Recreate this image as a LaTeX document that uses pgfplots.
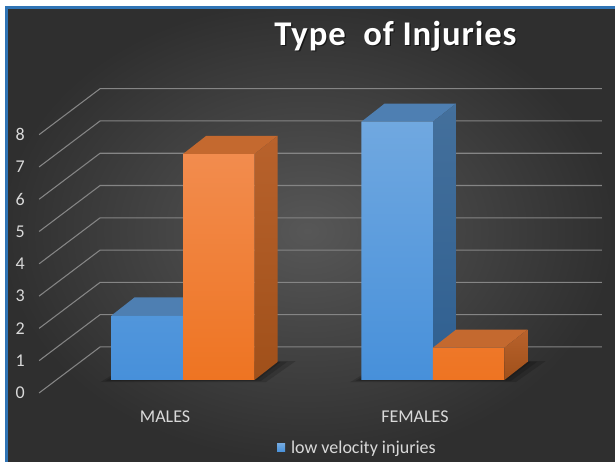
\documentclass[border=0pt]{standalone}
\usepackage{fontspec}
\setmainfont{Carlito}
\usepackage{pgfplots}
\pgfplotsset{compat=1.18}

\definecolor{bginner}{HTML}{575757}
\definecolor{bgouter}{HTML}{2F2F2F}
\definecolor{gridc}{HTML}{858585}
\definecolor{labelc}{HTML}{D9D9D9}
\definecolor{frameblue}{HTML}{2F74B5}
\definecolor{bluetopface}{HTML}{4E7FB2}
\definecolor{bluefronttop}{HTML}{70A8E0}
\definecolor{bluefrontbot}{HTML}{4790DA}
\definecolor{bluesidetop}{HTML}{44709C}
\definecolor{bluesidebot}{HTML}{2F5F90}
\definecolor{orangetopface}{HTML}{C4692F}
\definecolor{orangefronttop}{HTML}{F28C4E}
\definecolor{orangefrontbot}{HTML}{EE7422}
\definecolor{orangesidetop}{HTML}{B8622C}
\definecolor{orangesidebot}{HTML}{A0501A}

% bar geometry in axis units: width and the depth offset of the 3-D boxes
\def\bw{0.286}
\def\dx{0.092}
\def\dy{0.557}

% top and side faces of one box: left edge, value, top colour, side colours
\newcommand\barfaces[5]{%
  \pgfmathsetmacro\xl{#1}%
  \pgfmathsetmacro\xr{#1+\bw}%
  \pgfmathsetmacro\xlb{#1+\dx}%
  \pgfmathsetmacro\xrb{#1+\bw+\dx}%
  \pgfmathsetmacro\yt{#2}%
  \pgfmathsetmacro\ytb{#2+\dy}%
  \edef\faces{%
    \noexpand\addplot[forget plot, draw=none, fill=#3]
      coordinates {(\xl,\yt) (\xlb,\ytb) (\xrb,\ytb) (\xr,\yt)};
    \noexpand\addplot[forget plot, draw=none, top color=#4, bottom color=#5]
      coordinates {(\xr,0) (\xrb,\dy) (\xrb,\ytb) (\xr,\yt)};
  }\faces
}

% soft floor shadow under a pair of boxes: left edge, right edge, spread
\newcommand\floorshadow[3]{%
  \pgfmathsetmacro\sa{#1-#3}%
  \pgfmathsetmacro\sb{#2+#3}%
  \pgfmathsetmacro\sc{#2+\dx+1.6*#3}%
  \pgfmathsetmacro\sd{#1+\dx}%
  \pgfmathsetmacro\se{\dy+0.5*#3}%
  \pgfmathsetmacro\sf{-1.5*#3}%
  \edef\shadowpath{%
    \noexpand\addplot[forget plot, draw=none, fill=black, fill opacity=0.16]
      coordinates {(\sa,\sf) (\sb,\sf) (\sc,\se) (\sd,\se)};
  }\shadowpath
}

\begin{document}
\begin{tikzpicture}
\begin{axis}[
  scale only axis, width=461.25pt, height=346.5pt,
  xmin=-0.732, xmax=1.728, ymin=-2.5387, ymax=11.7647,
  axis line style={draw=none}, major tick length=0pt,
  axis background/.style={inner color=bginner, outer color=bgouter},
  xtick={0,1}, xticklabels={MALES,FEMALES},
  ytick={0,...,8},
  /pgf/number format/assume math mode=true,
  ticklabel style={text=labelc, font=\fontsize{13.5}{14}\selectfont},
  xticklabel style={anchor=center, xshift=-13.5pt, yshift=34.1pt},
  yticklabel style={anchor=center, xshift=15pt, yshift=-9.75pt},
  legend style={at={(rel axis cs:0.4504,0.0303)}, anchor=west,
    draw=none, fill=none, inner sep=0pt, outer sep=0pt,
    font=\fontsize{13.5}{14}\selectfont, text=labelc,
    nodes={inner sep=0pt}},
]

% perspective grid: slanted side wall and horizontal back wall
\pgfplotsinvokeforeach{0,...,8}{%
  \pgfmathsetmacro\gf{#1-0.402}%
  \pgfmathsetmacro\gb{#1+1.022}%
  \edef\gridline{%
    \noexpand\addplot[forget plot, gridc, line width=0.8pt]
      coordinates {(-0.576,\gf) (-0.332,\gb) (1.676,\gb)};
  }\gridline
}

\floorshadow{-0.286}{0.286}{0.045}
\floorshadow{-0.286}{0.286}{0.025}
\floorshadow{-0.286}{0.286}{0.008}
\floorshadow{0.714}{1.286}{0.045}
\floorshadow{0.714}{1.286}{0.025}
\floorshadow{0.714}{1.286}{0.008}

% low velocity injuries
\barfaces{-0.286}{2}{bluetopface}{bluesidetop}{bluesidebot}
\barfaces{0.714}{8}{bluetopface}{bluesidetop}{bluesidebot}
\addplot[ybar, bar width=0.286, bar shift=-0.143, draw=none,
  top color=bluefronttop, bottom color=bluefrontbot,
  legend image code/.code={\fill[bluefrontbot] (0pt,-3pt) rectangle (6pt,3pt);}]
  coordinates {(0,2) (1,8)};
\addlegendentry{\hspace{4.5pt}low velocity injuries}

% second series
\addplot[forget plot, ybar, bar width=0.286, bar shift=0.143, draw=none,
  top color=orangefronttop, bottom color=orangefrontbot]
  coordinates {(0,7) (1,1)};
\barfaces{0}{7}{orangetopface}{orangesidetop}{orangesidebot}
\barfaces{1}{1}{orangetopface}{orangesidetop}{orangesidebot}

% title with a soft drop shadow
\node[anchor=base, text=black, opacity=0.55,
  font=\fontsize{26}{26}\selectfont\bfseries\addfontfeature{LetterSpace=2.7}]
  at ([xshift=1pt,yshift=-1pt]rel axis cs:{395.5/615},{1-45/462}) {Type\ \ of Injuries};
\node[anchor=base, text=white,
  font=\fontsize{26}{26}\selectfont\bfseries\addfontfeature{LetterSpace=2.7}]
  at (rel axis cs:{395.5/615},{1-45/462}) {Type\ \ of Injuries};

% frame along the top and left edges
\fill[white] (rel axis cs:0,1) rectangle (rel axis cs:1,{1-6/462});
\fill[white] (rel axis cs:0,0) rectangle (rel axis cs:{5/615},1);
\fill[frameblue] (rel axis cs:{5/615},{1-6/462}) rectangle (rel axis cs:{8/615},0);
\fill[frameblue] (rel axis cs:{5/615},{1-6/462}) rectangle (rel axis cs:1,{1-8.5/462});
\end{axis}
\end{tikzpicture}
\end{document}
